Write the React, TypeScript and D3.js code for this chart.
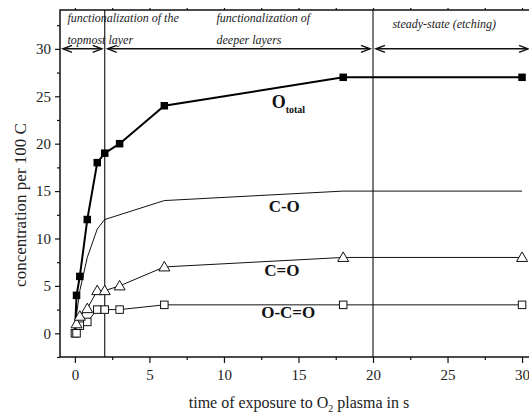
import { useRef, useEffect } from "react";
import { select, scaleLinear, axisBottom, axisLeft, axisTop, line, range } from "d3";

// time of exposure (s)
const tTotal = [0, 0.11, 0.33, 0.83, 1.5, 2, 3, 6, 18, 30];
const oTotal = [0, 4, 6, 12, 18, 19, 20, 24, 27, 27];

const tCO = [0, 0.11, 0.33, 0.83, 1.5, 2, 6, 18, 30];
const cO = [0, 2, 4.5, 8, 11, 12, 14, 15, 15];

const tCdO = [0.11, 0.33, 0.83, 1.5, 2, 3, 6, 18, 30];
const cdO = [1.0, 1.8, 2.6, 4.5, 4.5, 5, 7, 8, 8];

const tOCO = [0, 0.11, 0.33, 0.83, 1.5, 2, 3, 6, 18, 30];
const oco = [0, 0, 0.8, 1.2, 2.5, 2.5, 2.5, 3, 3, 3];

const xMajor = [0, 5, 10, 15, 20, 25, 30];
const yMajor = [0, 5, 10, 15, 20, 25, 30];

const phaseBounds = [2, 20];

const W = 529;
const H = 417;
const M = { left: 60, top: 10, right: 531, bottom: 357 };
const FONT = "Liberation Serif, Times New Roman, serif";

export default function App() {
  const axRef = useRef<SVGGElement>(null);

  const x = scaleLinear().domain([-1, 30.6]).range([M.left, M.right]);
  const y = scaleLinear().domain([-2.5, 34.1]).range([M.bottom, M.top]);

  useEffect(() => {
    const g = select(axRef.current);
    g.selectAll("*").remove();

    const minorX = range(0, 31, 2.5).filter((v) => v % 5 !== 0);
    const minorY = range(-2.5, 34, 2.5).filter((v) => v % 5 !== 0);

    // bottom
    g.append("g")
      .attr("transform", `translate(0,${M.bottom})`)
      .call(axisBottom(x).tickValues(xMajor).tickSize(6).tickPadding(6))
      .call((s) => s.select(".domain").remove());
    g.append("g")
      .attr("transform", `translate(0,${M.bottom})`)
      .call(axisBottom(x).tickValues(minorX).tickSize(3).tickFormat(() => ""))
      .call((s) => s.select(".domain").remove());

    // left
    g.append("g")
      .attr("transform", `translate(${M.left},0)`)
      .call(axisLeft(y).tickValues(yMajor).tickSize(5).tickPadding(4))
      .call((s) => s.select(".domain").remove());
    g.append("g")
      .attr("transform", `translate(${M.left},0)`)
      .call(axisLeft(y).tickValues(minorY).tickSize(3).tickFormat(() => ""))
      .call((s) => s.select(".domain").remove());

    // top
    g.append("g")
      .attr("transform", `translate(0,${M.top})`)
      .call(axisTop(x).tickValues(range(0, 31, 2.5)).tickSize(2).tickFormat(() => ""))
      .call((s) => s.select(".domain").remove());

    g.selectAll("text")
      .attr("font-family", FONT)
      .attr("font-size", 15)
      .attr("fill", "#222");
    g.selectAll("line").attr("stroke", "#111").attr("stroke-width", 1.2);
  }, []);

  const mk = (ts: number[], vs: number[]) => ts.map((t, i) => [t, vs[i]] as [number, number]);
  const path = line<[number, number]>()
    .x((d) => x(d[0]))
    .y((d) => y(d[1]));

  const yArrow = y(30);
  const arrowSegs: [number, number][] = [
    [M.left, x(phaseBounds[0])],
    [x(phaseBounds[0]), x(phaseBounds[1])],
    [x(phaseBounds[1]), M.right],
  ];

  const chev = (tip: number, dir: number) =>
    `M${tip + dir * 9},${yArrow - 3.5} L${tip},${yArrow} L${tip + dir * 9},${yArrow + 3.5}`;

  const sq = 7.5;
  const tri = (cx: number, cy: number) =>
    `M${cx},${cy - 5.5} L${cx + 5.5},${cy + 4} L${cx - 5.5},${cy + 4} Z`;

  return (
    <svg
      width={W}
      height={H}
      style={{ position: "absolute", left: 0, top: 0, background: "#fff" }}
      fontFamily={FONT}
    >
      <rect x={0} y={0} width={W} height={H} fill="#fff" />

      {/* phase boundaries */}
      {phaseBounds.map((b) => (
        <line key={b} x1={x(b)} x2={x(b)} y1={M.top} y2={M.bottom} stroke="#222" strokeWidth={1.2} />
      ))}

      {/* arrows */}
      {arrowSegs.map(([a, b], i) => (
        <g key={i} stroke="#111" strokeWidth={1.5} fill="none">
          <line x1={a + 3} x2={b - 3} y1={yArrow} y2={yArrow} />
          <path d={chev(a + 3, 1)} />
          <path d={chev(b - 3, -1)} />
        </g>
      ))}

      {/* C-O */}
      <path d={path(mk(tCO, cO)) || ""} fill="none" stroke="#111" strokeWidth={1} />
      {/* C=O */}
      <path d={path(mk(tCdO, cdO)) || ""} fill="none" stroke="#111" strokeWidth={1} />
      {/* O-C=O */}
      <path d={path(mk(tOCO, oco)) || ""} fill="none" stroke="#111" strokeWidth={1} />
      {/* O total */}
      <path d={path(mk(tTotal, oTotal)) || ""} fill="none" stroke="#000" strokeWidth={2} />

      {mk(tTotal, oTotal).map(([t, v], i) => (
        <rect key={"o" + i} x={x(t) - sq / 2} y={y(v) - sq / 2} width={sq} height={sq} fill="#000" />
      ))}
      {mk(tOCO, oco).map(([t, v], i) => (
        <rect
          key={"s" + i}
          x={x(t) - sq / 2}
          y={y(v) - sq / 2}
          width={sq}
          height={sq}
          fill="#fff"
          stroke="#111"
          strokeWidth={1}
        />
      ))}
      {mk(tCdO, cdO).map(([t, v], i) => (
        <path key={"t" + i} d={tri(x(t), y(v))} fill="#fff" stroke="#111" strokeWidth={1} />
      ))}

      {/* frame */}
      <rect
        x={M.left}
        y={M.top}
        width={M.right - M.left}
        height={M.bottom - M.top}
        fill="none"
        stroke="#111"
        strokeWidth={1.5}
      />

      <g ref={axRef} />

      {/* phase annotations */}
      <g fontStyle="italic" fontSize={12} fill="#222">
        <text x={x(-0.5)} y={22}>functionalization of the</text>
        <text x={x(-0.5)} y={44}>topmost layer</text>
        <text x={x(9.5)} y={22}>functionalization of</text>
        <text x={x(9.5)} y={44}>deeper layers</text>
        <text x={x(21.3)} y={28}>steady-state (etching)</text>
      </g>

      {/* series labels */}
      <g fontWeight="bold" fill="#111">
        <text x={x(13.2)} y={y(23.8)} fontSize={18}>
          O<tspan fontSize={10} dy={5}>total</tspan>
        </text>
        <text x={x(13.0)} y={y(12.8)} fontSize={17}>C-O</text>
        <text x={x(12.7)} y={y(6.05)} fontSize={17}>C=O</text>
        <text x={x(12.5)} y={y(1.6)} fontSize={17}>O-C=O</text>
      </g>

      {/* axis titles */}
      <text x={299} y={408} fontSize={16} textAnchor="middle" fill="#222">
        time of exposure to O<tspan fontSize={10} dy={4}>2</tspan>
        <tspan dy={-4}> plasma in s</tspan>
      </text>
      <text
        transform={`translate(26,205) rotate(-90)`}
        fontSize={17}
        textAnchor="middle"
        fill="#222"
      >
        concentration per 100 C
      </text>
    </svg>
  );
}
